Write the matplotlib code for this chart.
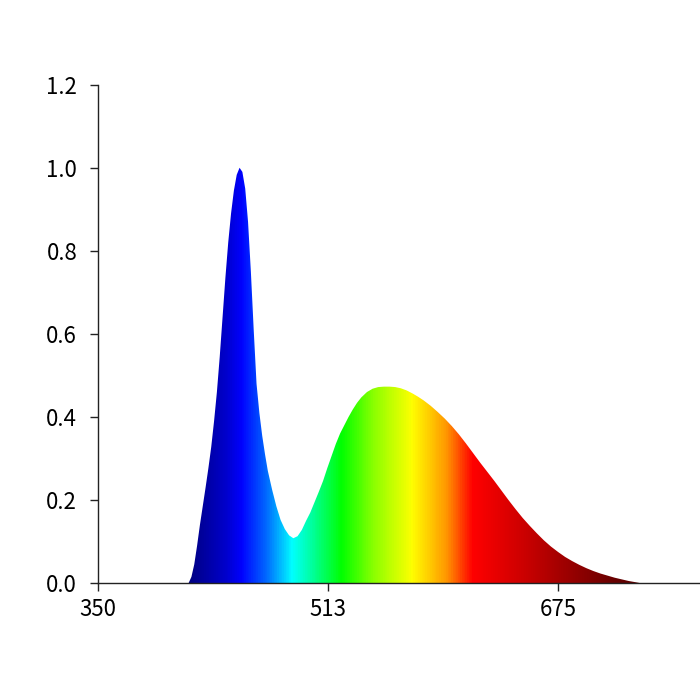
import matplotlib
matplotlib.use("Agg")
import matplotlib.pyplot as plt
import numpy as np
from matplotlib.colors import LinearSegmentedColormap

plt.rcParams['font.family'] = ['Noto Sans CJK SC', 'DejaVu Sans']

# spectrum (wavelength nm, relative intensity)
wavelength = [410, 414, 416, 418, 420, 422, 424, 426, 428, 430, 432, 434, 436, 438,
              440, 442, 444, 446, 448, 450, 452, 454, 456, 458, 460, 462, 464, 466,
              468, 470, 473, 476, 479, 482, 485, 488, 491, 494, 497, 500, 503, 506,
              509, 512, 515, 518, 521, 524, 527, 530, 533, 536, 540, 544, 548, 552,
              556, 560, 564, 568, 572, 576, 580, 585, 590, 595, 600, 605, 610, 615,
              620, 625, 630, 635, 640, 645, 650, 655, 660, 665, 670, 675, 680, 685,
              690, 695, 700, 705, 710, 715, 720, 725, 730, 733]
intensity = [0.0, 0.0, 0.015, 0.045, 0.09, 0.14, 0.185, 0.23, 0.277, 0.328, 0.39, 0.46, 0.545, 0.64,
             0.735, 0.82, 0.89, 0.945, 0.983, 1.00, 0.99, 0.95, 0.87, 0.75, 0.61, 0.48, 0.41, 0.355,
             0.31, 0.27, 0.225, 0.185, 0.152, 0.13, 0.115, 0.108, 0.113, 0.128, 0.15, 0.17, 0.195, 0.22,
             0.246, 0.277, 0.306, 0.335, 0.36, 0.38, 0.40, 0.418, 0.434, 0.447, 0.46, 0.468, 0.472, 0.473,
             0.473, 0.472, 0.469, 0.464, 0.457, 0.449, 0.44, 0.427, 0.412, 0.396, 0.378, 0.358, 0.336, 0.313,
             0.290, 0.268, 0.246, 0.223, 0.200, 0.178, 0.157, 0.138, 0.120, 0.103, 0.088, 0.075, 0.063, 0.053,
             0.044, 0.036, 0.029, 0.023, 0.018, 0.013, 0.009, 0.005, 0.002, 0.0]

xticks = [350, 512.5, 675]
xtick_labels = ['350', '513', '675']
yticks = [0.0, 0.2, 0.4, 0.6, 0.8, 1.0, 1.2]

# colour of light along the wavelength axis
color_nm = [350, 413, 440, 451, 470, 487, 505, 522, 545, 572, 596, 615, 651, 717, 775.3]
color_rgb = [(0, 0, 0.45), (0, 0, 0.5), (0, 0, 0.8), (0, 0, 1), (0, 0.45, 1), (0, 1, 1),
             (0, 1, 0.5), (0, 1, 0), (0.55, 1, 0), (1, 1, 0), (1, 0.6, 0), (1, 0, 0),
             (0.8, 0, 0), (0.4, 0, 0), (0.25, 0, 0)]

x_min, x_max = color_nm[0], color_nm[-1]
pos = [(n - x_min) / (x_max - x_min) for n in color_nm]
cmap = LinearSegmentedColormap.from_list('spec', list(zip(pos, color_rgb)))

fig = plt.figure(figsize=(7, 7), dpi=100)
ax = fig.add_axes([0.14, 0.167, 0.86, 0.712])

poly = ax.fill_between(wavelength, intensity, 0, color='none', lw=0)
grad = np.linspace(0, 1, 1000).reshape(1, -1)
im = ax.imshow(grad, cmap=cmap, aspect='auto', extent=[x_min, x_max, 0, 1.2],
               origin='lower', interpolation='bilinear')
path = poly.get_paths()[0]
im.set_clip_path(path, transform=ax.transData)

ax.set_xlim(x_min, x_max)
ax.set_ylim(0, 1.2)
ax.set_xticks(xticks)
ax.set_xticklabels(xtick_labels)
ax.set_yticks(yticks)
ax.set_yticklabels([f'{v:.1f}' for v in yticks])
ax.spines['top'].set_visible(False)
ax.spines['right'].set_visible(False)
for s in ['left', 'bottom']:
    ax.spines[s].set_color('#222222')
    ax.spines[s].set_linewidth(1)
ax.tick_params(axis='y', length=6, width=1, pad=9, labelsize=16, colors='#222222', labelcolor='black')
ax.tick_params(axis='x', length=6, width=1, pad=5, labelsize=16, colors='#222222', labelcolor='black')

fig.savefig('out.png', dpi=100)
